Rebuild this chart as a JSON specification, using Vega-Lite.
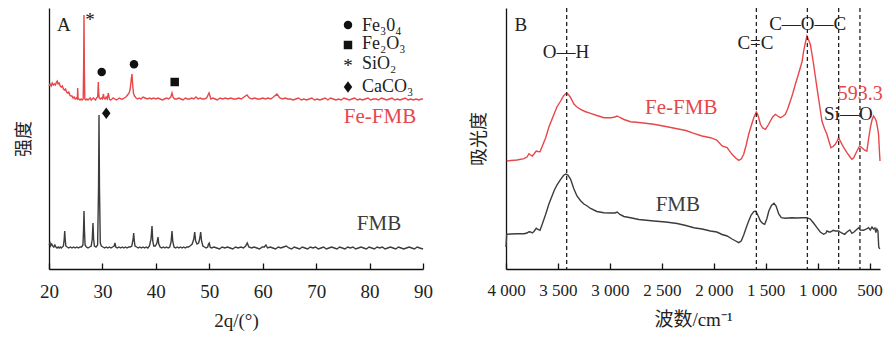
{
  "$schema": "https://vega.github.io/schema/vega-lite/v6.json",
  "padding": {"left": 15, "top": 7, "right": 3, "bottom": 3},
  "bounds": "flush",
  "spacing": 83,
  "config": {
    "view": {"stroke": null},
    "font": "Liberation Serif",
    "axis": {"grid": false, "domainColor": "#111", "domainWidth": 1.3, "tickColor": "#111", "tickWidth": 1.3, "labelColor": "#222", "titleColor": "#222", "labelFont": "Liberation Serif", "titleFont": "Liberation Serif, Noto Sans CJK SC", "titleFontWeight": "normal"},
    "text": {"font": "Liberation Serif, DejaVu Serif, Noto Sans CJK SC"}
  },
  "datasets": {
    "xrd": [
      {"theta":20.0,"intensity":183,"sample":"Fe-FMB"},{"theta":20.2,"intensity":185,"sample":"Fe-FMB"},{"theta":20.4,"intensity":183,"sample":"Fe-FMB"},{"theta":20.6,"intensity":186,"sample":"Fe-FMB"},{"theta":20.8,"intensity":184,"sample":"Fe-FMB"},{"theta":21.0,"intensity":185,"sample":"Fe-FMB"},{"theta":21.2,"intensity":184,"sample":"Fe-FMB"},{"theta":21.4,"intensity":187,"sample":"Fe-FMB"},{"theta":21.55,"intensity":188,"sample":"Fe-FMB"},{"theta":21.7,"intensity":185,"sample":"Fe-FMB"},{"theta":21.9,"intensity":186,"sample":"Fe-FMB"},{"theta":22.1,"intensity":183,"sample":"Fe-FMB"},{"theta":22.3,"intensity":182,"sample":"Fe-FMB"},{"theta":22.5,"intensity":183,"sample":"Fe-FMB"},{"theta":22.7,"intensity":180,"sample":"Fe-FMB"},{"theta":22.9,"intensity":179,"sample":"Fe-FMB"},{"theta":23.1,"intensity":180,"sample":"Fe-FMB"},{"theta":23.3,"intensity":177,"sample":"Fe-FMB"},{"theta":23.5,"intensity":176,"sample":"Fe-FMB"},{"theta":23.7,"intensity":177,"sample":"Fe-FMB"},{"theta":23.9,"intensity":174,"sample":"Fe-FMB"},{"theta":24.1,"intensity":173,"sample":"Fe-FMB"},{"theta":24.3,"intensity":173,"sample":"Fe-FMB"},{"theta":24.5,"intensity":171,"sample":"Fe-FMB"},{"theta":24.7,"intensity":172,"sample":"Fe-FMB"},{"theta":24.9,"intensity":170,"sample":"Fe-FMB"},{"theta":25.1,"intensity":171,"sample":"Fe-FMB"},{"theta":25.3,"intensity":170,"sample":"Fe-FMB"},{"theta":25.37,"intensity":181,"sample":"Fe-FMB"},{"theta":25.45,"intensity":170,"sample":"Fe-FMB"},{"theta":25.6,"intensity":170,"sample":"Fe-FMB"},{"theta":25.8,"intensity":169,"sample":"Fe-FMB"},{"theta":26.0,"intensity":170,"sample":"Fe-FMB"},{"theta":26.2,"intensity":169,"sample":"Fe-FMB"},{"theta":26.4,"intensity":170,"sample":"Fe-FMB"},{"theta":26.48,"intensity":200,"sample":"Fe-FMB"},{"theta":26.55,"intensity":254,"sample":"Fe-FMB"},{"theta":26.62,"intensity":200,"sample":"Fe-FMB"},{"theta":26.7,"intensity":170,"sample":"Fe-FMB"},{"theta":26.9,"intensity":169,"sample":"Fe-FMB"},{"theta":27.1,"intensity":170,"sample":"Fe-FMB"},{"theta":27.3,"intensity":169,"sample":"Fe-FMB"},{"theta":27.5,"intensity":170,"sample":"Fe-FMB"},{"theta":27.7,"intensity":171,"sample":"Fe-FMB"},{"theta":27.9,"intensity":169,"sample":"Fe-FMB"},{"theta":28.1,"intensity":170,"sample":"Fe-FMB"},{"theta":28.3,"intensity":171,"sample":"Fe-FMB"},{"theta":28.5,"intensity":170,"sample":"Fe-FMB"},{"theta":28.7,"intensity":169,"sample":"Fe-FMB"},{"theta":28.9,"intensity":171,"sample":"Fe-FMB"},{"theta":29.1,"intensity":172,"sample":"Fe-FMB"},{"theta":29.17,"intensity":178,"sample":"Fe-FMB"},{"theta":29.23,"intensity":187,"sample":"Fe-FMB"},{"theta":29.3,"intensity":176,"sample":"Fe-FMB"},{"theta":29.4,"intensity":171,"sample":"Fe-FMB"},{"theta":29.6,"intensity":170,"sample":"Fe-FMB"},{"theta":29.8,"intensity":171,"sample":"Fe-FMB"},{"theta":30.0,"intensity":170,"sample":"Fe-FMB"},{"theta":30.2,"intensity":175,"sample":"Fe-FMB"},{"theta":30.3,"intensity":171,"sample":"Fe-FMB"},{"theta":30.5,"intensity":170,"sample":"Fe-FMB"},{"theta":30.7,"intensity":172,"sample":"Fe-FMB"},{"theta":30.9,"intensity":170,"sample":"Fe-FMB"},{"theta":31.1,"intensity":176,"sample":"Fe-FMB"},{"theta":31.3,"intensity":170,"sample":"Fe-FMB"},{"theta":31.5,"intensity":169,"sample":"Fe-FMB"},{"theta":31.8,"intensity":170,"sample":"Fe-FMB"},{"theta":32.0,"intensity":171,"sample":"Fe-FMB"},{"theta":32.3,"intensity":170,"sample":"Fe-FMB"},{"theta":32.6,"intensity":169,"sample":"Fe-FMB"},{"theta":32.9,"intensity":170,"sample":"Fe-FMB"},{"theta":33.2,"intensity":171,"sample":"Fe-FMB"},{"theta":33.5,"intensity":170,"sample":"Fe-FMB"},{"theta":33.8,"intensity":170,"sample":"Fe-FMB"},{"theta":34.1,"intensity":171,"sample":"Fe-FMB"},{"theta":34.4,"intensity":172,"sample":"Fe-FMB"},{"theta":34.7,"intensity":174,"sample":"Fe-FMB"},{"theta":35.0,"intensity":176,"sample":"Fe-FMB"},{"theta":35.2,"intensity":180,"sample":"Fe-FMB"},{"theta":35.4,"intensity":190,"sample":"Fe-FMB"},{"theta":35.53,"intensity":195,"sample":"Fe-FMB"},{"theta":35.65,"intensity":185,"sample":"Fe-FMB"},{"theta":35.8,"intensity":176,"sample":"Fe-FMB"},{"theta":36.0,"intensity":173,"sample":"Fe-FMB"},{"theta":36.3,"intensity":171,"sample":"Fe-FMB"},{"theta":36.6,"intensity":170,"sample":"Fe-FMB"},{"theta":36.9,"intensity":171,"sample":"Fe-FMB"},{"theta":37.2,"intensity":170,"sample":"Fe-FMB"},{"theta":37.6,"intensity":172,"sample":"Fe-FMB"},{"theta":38.0,"intensity":171,"sample":"Fe-FMB"},{"theta":38.4,"intensity":170,"sample":"Fe-FMB"},{"theta":38.8,"intensity":171,"sample":"Fe-FMB"},{"theta":39.2,"intensity":170,"sample":"Fe-FMB"},{"theta":39.6,"intensity":171,"sample":"Fe-FMB"},{"theta":40.0,"intensity":170,"sample":"Fe-FMB"},{"theta":40.4,"intensity":171,"sample":"Fe-FMB"},{"theta":40.8,"intensity":170,"sample":"Fe-FMB"},{"theta":41.2,"intensity":169,"sample":"Fe-FMB"},{"theta":41.6,"intensity":170,"sample":"Fe-FMB"},{"theta":42.0,"intensity":171,"sample":"Fe-FMB"},{"theta":42.4,"intensity":170,"sample":"Fe-FMB"},{"theta":42.8,"intensity":172,"sample":"Fe-FMB"},{"theta":43.02,"intensity":176,"sample":"Fe-FMB"},{"theta":43.2,"intensity":172,"sample":"Fe-FMB"},{"theta":43.5,"intensity":170,"sample":"Fe-FMB"},{"theta":43.9,"intensity":170,"sample":"Fe-FMB"},{"theta":44.3,"intensity":171,"sample":"Fe-FMB"},{"theta":44.7,"intensity":170,"sample":"Fe-FMB"},{"theta":45.1,"intensity":169,"sample":"Fe-FMB"},{"theta":45.5,"intensity":171,"sample":"Fe-FMB"},{"theta":45.9,"intensity":170,"sample":"Fe-FMB"},{"theta":46.3,"intensity":170,"sample":"Fe-FMB"},{"theta":46.7,"intensity":171,"sample":"Fe-FMB"},{"theta":47.1,"intensity":170,"sample":"Fe-FMB"},{"theta":47.5,"intensity":172,"sample":"Fe-FMB"},{"theta":47.9,"intensity":170,"sample":"Fe-FMB"},{"theta":48.3,"intensity":171,"sample":"Fe-FMB"},{"theta":48.7,"intensity":170,"sample":"Fe-FMB"},{"theta":49.1,"intensity":170,"sample":"Fe-FMB"},{"theta":49.5,"intensity":171,"sample":"Fe-FMB"},{"theta":49.95,"intensity":176,"sample":"Fe-FMB"},{"theta":50.3,"intensity":170,"sample":"Fe-FMB"},{"theta":50.7,"intensity":171,"sample":"Fe-FMB"},{"theta":51.1,"intensity":170,"sample":"Fe-FMB"},{"theta":51.5,"intensity":169,"sample":"Fe-FMB"},{"theta":52.0,"intensity":171,"sample":"Fe-FMB"},{"theta":52.5,"intensity":170,"sample":"Fe-FMB"},{"theta":53.0,"intensity":171,"sample":"Fe-FMB"},{"theta":53.5,"intensity":170,"sample":"Fe-FMB"},{"theta":54.0,"intensity":171,"sample":"Fe-FMB"},{"theta":54.5,"intensity":170,"sample":"Fe-FMB"},{"theta":55.0,"intensity":170,"sample":"Fe-FMB"},{"theta":55.5,"intensity":171,"sample":"Fe-FMB"},{"theta":56.0,"intensity":170,"sample":"Fe-FMB"},{"theta":56.5,"intensity":172,"sample":"Fe-FMB"},{"theta":57.06,"intensity":174,"sample":"Fe-FMB"},{"theta":57.5,"intensity":171,"sample":"Fe-FMB"},{"theta":58.0,"intensity":170,"sample":"Fe-FMB"},{"theta":58.5,"intensity":171,"sample":"Fe-FMB"},{"theta":59.0,"intensity":170,"sample":"Fe-FMB"},{"theta":59.5,"intensity":170,"sample":"Fe-FMB"},{"theta":60.0,"intensity":171,"sample":"Fe-FMB"},{"theta":60.5,"intensity":170,"sample":"Fe-FMB"},{"theta":61.0,"intensity":171,"sample":"Fe-FMB"},{"theta":61.5,"intensity":170,"sample":"Fe-FMB"},{"theta":62.0,"intensity":172,"sample":"Fe-FMB"},{"theta":62.67,"intensity":175,"sample":"Fe-FMB"},{"theta":63.2,"intensity":171,"sample":"Fe-FMB"},{"theta":63.7,"intensity":170,"sample":"Fe-FMB"},{"theta":64.2,"intensity":171,"sample":"Fe-FMB"},{"theta":64.7,"intensity":170,"sample":"Fe-FMB"},{"theta":65.2,"intensity":170,"sample":"Fe-FMB"},{"theta":65.7,"intensity":169,"sample":"Fe-FMB"},{"theta":66.2,"intensity":170,"sample":"Fe-FMB"},{"theta":66.7,"intensity":171,"sample":"Fe-FMB"},{"theta":67.2,"intensity":169,"sample":"Fe-FMB"},{"theta":67.7,"intensity":170,"sample":"Fe-FMB"},{"theta":68.2,"intensity":169,"sample":"Fe-FMB"},{"theta":68.7,"intensity":170,"sample":"Fe-FMB"},{"theta":69.2,"intensity":171,"sample":"Fe-FMB"},{"theta":69.7,"intensity":169,"sample":"Fe-FMB"},{"theta":70.2,"intensity":170,"sample":"Fe-FMB"},{"theta":70.7,"intensity":169,"sample":"Fe-FMB"},{"theta":71.2,"intensity":170,"sample":"Fe-FMB"},{"theta":71.7,"intensity":171,"sample":"Fe-FMB"},{"theta":72.2,"intensity":169,"sample":"Fe-FMB"},{"theta":72.7,"intensity":171,"sample":"Fe-FMB"},{"theta":73.2,"intensity":170,"sample":"Fe-FMB"},{"theta":73.7,"intensity":169,"sample":"Fe-FMB"},{"theta":74.2,"intensity":170,"sample":"Fe-FMB"},{"theta":74.7,"intensity":169,"sample":"Fe-FMB"},{"theta":75.2,"intensity":171,"sample":"Fe-FMB"},{"theta":75.7,"intensity":170,"sample":"Fe-FMB"},{"theta":76.2,"intensity":169,"sample":"Fe-FMB"},{"theta":76.7,"intensity":170,"sample":"Fe-FMB"},{"theta":77.2,"intensity":171,"sample":"Fe-FMB"},{"theta":77.7,"intensity":169,"sample":"Fe-FMB"},{"theta":78.2,"intensity":170,"sample":"Fe-FMB"},{"theta":78.7,"intensity":169,"sample":"Fe-FMB"},{"theta":79.2,"intensity":170,"sample":"Fe-FMB"},{"theta":79.7,"intensity":171,"sample":"Fe-FMB"},{"theta":80.2,"intensity":169,"sample":"Fe-FMB"},{"theta":80.7,"intensity":170,"sample":"Fe-FMB"},{"theta":81.2,"intensity":170,"sample":"Fe-FMB"},{"theta":81.7,"intensity":169,"sample":"Fe-FMB"},{"theta":82.2,"intensity":171,"sample":"Fe-FMB"},{"theta":82.7,"intensity":170,"sample":"Fe-FMB"},{"theta":83.2,"intensity":169,"sample":"Fe-FMB"},{"theta":83.7,"intensity":170,"sample":"Fe-FMB"},{"theta":84.2,"intensity":171,"sample":"Fe-FMB"},{"theta":84.7,"intensity":169,"sample":"Fe-FMB"},{"theta":85.2,"intensity":170,"sample":"Fe-FMB"},{"theta":85.7,"intensity":169,"sample":"Fe-FMB"},{"theta":86.2,"intensity":170,"sample":"Fe-FMB"},{"theta":86.7,"intensity":171,"sample":"Fe-FMB"},{"theta":87.2,"intensity":169,"sample":"Fe-FMB"},{"theta":87.7,"intensity":170,"sample":"Fe-FMB"},{"theta":88.2,"intensity":169,"sample":"Fe-FMB"},{"theta":88.7,"intensity":170,"sample":"Fe-FMB"},{"theta":89.2,"intensity":169,"sample":"Fe-FMB"},{"theta":89.7,"intensity":170,"sample":"Fe-FMB"},{"theta":90.0,"intensity":170,"sample":"Fe-FMB"},
      {"theta":20.0,"intensity":24,"sample":"FMB"},{"theta":20.2,"intensity":26,"sample":"FMB"},{"theta":20.3,"intensity":23,"sample":"FMB"},{"theta":20.5,"intensity":25,"sample":"FMB"},{"theta":20.7,"intensity":23,"sample":"FMB"},{"theta":20.9,"intensity":22,"sample":"FMB"},{"theta":21.1,"intensity":24,"sample":"FMB"},{"theta":21.3,"intensity":22,"sample":"FMB"},{"theta":21.5,"intensity":21,"sample":"FMB"},{"theta":21.7,"intensity":22,"sample":"FMB"},{"theta":21.9,"intensity":21,"sample":"FMB"},{"theta":22.1,"intensity":22,"sample":"FMB"},{"theta":22.3,"intensity":21,"sample":"FMB"},{"theta":22.5,"intensity":22,"sample":"FMB"},{"theta":22.7,"intensity":23,"sample":"FMB"},{"theta":22.85,"intensity":30,"sample":"FMB"},{"theta":22.94,"intensity":38,"sample":"FMB"},{"theta":23.03,"intensity":30,"sample":"FMB"},{"theta":23.15,"intensity":23,"sample":"FMB"},{"theta":23.4,"intensity":22,"sample":"FMB"},{"theta":23.7,"intensity":21,"sample":"FMB"},{"theta":24.0,"intensity":22,"sample":"FMB"},{"theta":24.3,"intensity":21,"sample":"FMB"},{"theta":24.6,"intensity":22,"sample":"FMB"},{"theta":24.9,"intensity":21,"sample":"FMB"},{"theta":25.2,"intensity":22,"sample":"FMB"},{"theta":25.5,"intensity":21,"sample":"FMB"},{"theta":25.8,"intensity":22,"sample":"FMB"},{"theta":26.1,"intensity":22,"sample":"FMB"},{"theta":26.35,"intensity":24,"sample":"FMB"},{"theta":26.47,"intensity":40,"sample":"FMB"},{"theta":26.55,"intensity":58,"sample":"FMB"},{"theta":26.63,"intensity":40,"sample":"FMB"},{"theta":26.75,"intensity":24,"sample":"FMB"},{"theta":27.0,"intensity":22,"sample":"FMB"},{"theta":27.3,"intensity":21,"sample":"FMB"},{"theta":27.6,"intensity":22,"sample":"FMB"},{"theta":27.9,"intensity":23,"sample":"FMB"},{"theta":28.1,"intensity":30,"sample":"FMB"},{"theta":28.23,"intensity":46,"sample":"FMB"},{"theta":28.35,"intensity":30,"sample":"FMB"},{"theta":28.5,"intensity":23,"sample":"FMB"},{"theta":28.8,"intensity":22,"sample":"FMB"},{"theta":29.1,"intensity":24,"sample":"FMB"},{"theta":29.27,"intensity":80,"sample":"FMB"},{"theta":29.36,"intensity":154,"sample":"FMB"},{"theta":29.45,"intensity":80,"sample":"FMB"},{"theta":29.6,"intensity":26,"sample":"FMB"},{"theta":29.8,"intensity":23,"sample":"FMB"},{"theta":30.1,"intensity":22,"sample":"FMB"},{"theta":30.4,"intensity":21,"sample":"FMB"},{"theta":30.7,"intensity":22,"sample":"FMB"},{"theta":31.0,"intensity":21,"sample":"FMB"},{"theta":31.3,"intensity":22,"sample":"FMB"},{"theta":31.6,"intensity":21,"sample":"FMB"},{"theta":31.9,"intensity":22,"sample":"FMB"},{"theta":32.2,"intensity":23,"sample":"FMB"},{"theta":32.35,"intensity":26,"sample":"FMB"},{"theta":32.5,"intensity":22,"sample":"FMB"},{"theta":32.8,"intensity":21,"sample":"FMB"},{"theta":33.1,"intensity":22,"sample":"FMB"},{"theta":33.4,"intensity":21,"sample":"FMB"},{"theta":33.7,"intensity":22,"sample":"FMB"},{"theta":34.0,"intensity":21,"sample":"FMB"},{"theta":34.3,"intensity":22,"sample":"FMB"},{"theta":34.6,"intensity":21,"sample":"FMB"},{"theta":34.9,"intensity":22,"sample":"FMB"},{"theta":35.2,"intensity":22,"sample":"FMB"},{"theta":35.5,"intensity":23,"sample":"FMB"},{"theta":35.75,"intensity":30,"sample":"FMB"},{"theta":35.85,"intensity":36,"sample":"FMB"},{"theta":35.97,"intensity":28,"sample":"FMB"},{"theta":36.1,"intensity":23,"sample":"FMB"},{"theta":36.4,"intensity":22,"sample":"FMB"},{"theta":36.7,"intensity":21,"sample":"FMB"},{"theta":37.0,"intensity":22,"sample":"FMB"},{"theta":37.3,"intensity":21,"sample":"FMB"},{"theta":37.6,"intensity":22,"sample":"FMB"},{"theta":37.9,"intensity":21,"sample":"FMB"},{"theta":38.2,"intensity":22,"sample":"FMB"},{"theta":38.5,"intensity":21,"sample":"FMB"},{"theta":38.8,"intensity":23,"sample":"FMB"},{"theta":39.1,"intensity":30,"sample":"FMB"},{"theta":39.28,"intensity":43,"sample":"FMB"},{"theta":39.42,"intensity":28,"sample":"FMB"},{"theta":39.6,"intensity":23,"sample":"FMB"},{"theta":39.9,"intensity":23,"sample":"FMB"},{"theta":40.2,"intensity":26,"sample":"FMB"},{"theta":40.4,"intensity":32,"sample":"FMB"},{"theta":40.55,"intensity":25,"sample":"FMB"},{"theta":40.8,"intensity":22,"sample":"FMB"},{"theta":41.1,"intensity":21,"sample":"FMB"},{"theta":41.4,"intensity":22,"sample":"FMB"},{"theta":41.7,"intensity":21,"sample":"FMB"},{"theta":42.0,"intensity":22,"sample":"FMB"},{"theta":42.3,"intensity":21,"sample":"FMB"},{"theta":42.6,"intensity":22,"sample":"FMB"},{"theta":42.85,"intensity":27,"sample":"FMB"},{"theta":43.02,"intensity":38,"sample":"FMB"},{"theta":43.18,"intensity":27,"sample":"FMB"},{"theta":43.4,"intensity":22,"sample":"FMB"},{"theta":43.7,"intensity":21,"sample":"FMB"},{"theta":44.0,"intensity":22,"sample":"FMB"},{"theta":44.3,"intensity":21,"sample":"FMB"},{"theta":44.6,"intensity":22,"sample":"FMB"},{"theta":44.9,"intensity":21,"sample":"FMB"},{"theta":45.2,"intensity":22,"sample":"FMB"},{"theta":45.5,"intensity":21,"sample":"FMB"},{"theta":45.8,"intensity":22,"sample":"FMB"},{"theta":46.1,"intensity":22,"sample":"FMB"},{"theta":46.4,"intensity":23,"sample":"FMB"},{"theta":46.8,"intensity":25,"sample":"FMB"},{"theta":47.1,"intensity":30,"sample":"FMB"},{"theta":47.27,"intensity":37,"sample":"FMB"},{"theta":47.45,"intensity":28,"sample":"FMB"},{"theta":47.7,"intensity":25,"sample":"FMB"},{"theta":48.0,"intensity":26,"sample":"FMB"},{"theta":48.2,"intensity":30,"sample":"FMB"},{"theta":48.39,"intensity":37,"sample":"FMB"},{"theta":48.55,"intensity":28,"sample":"FMB"},{"theta":48.8,"intensity":23,"sample":"FMB"},{"theta":49.1,"intensity":22,"sample":"FMB"},{"theta":49.4,"intensity":21,"sample":"FMB"},{"theta":49.7,"intensity":22,"sample":"FMB"},{"theta":49.85,"intensity":25,"sample":"FMB"},{"theta":50.0,"intensity":26,"sample":"FMB"},{"theta":50.15,"intensity":22,"sample":"FMB"},{"theta":50.4,"intensity":21,"sample":"FMB"},{"theta":50.9,"intensity":22,"sample":"FMB"},{"theta":51.4,"intensity":21,"sample":"FMB"},{"theta":51.9,"intensity":20,"sample":"FMB"},{"theta":52.4,"intensity":22,"sample":"FMB"},{"theta":52.9,"intensity":21,"sample":"FMB"},{"theta":53.4,"intensity":22,"sample":"FMB"},{"theta":53.9,"intensity":21,"sample":"FMB"},{"theta":54.4,"intensity":20,"sample":"FMB"},{"theta":54.9,"intensity":22,"sample":"FMB"},{"theta":55.4,"intensity":21,"sample":"FMB"},{"theta":55.9,"intensity":22,"sample":"FMB"},{"theta":56.4,"intensity":21,"sample":"FMB"},{"theta":56.8,"intensity":23,"sample":"FMB"},{"theta":57.1,"intensity":26,"sample":"FMB"},{"theta":57.4,"intensity":22,"sample":"FMB"},{"theta":57.9,"intensity":21,"sample":"FMB"},{"theta":58.4,"intensity":22,"sample":"FMB"},{"theta":58.9,"intensity":21,"sample":"FMB"},{"theta":59.4,"intensity":20,"sample":"FMB"},{"theta":59.9,"intensity":22,"sample":"FMB"},{"theta":60.3,"intensity":22,"sample":"FMB"},{"theta":60.6,"intensity":24,"sample":"FMB"},{"theta":60.9,"intensity":21,"sample":"FMB"},{"theta":61.4,"intensity":22,"sample":"FMB"},{"theta":61.9,"intensity":21,"sample":"FMB"},{"theta":62.4,"intensity":20,"sample":"FMB"},{"theta":62.9,"intensity":22,"sample":"FMB"},{"theta":63.4,"intensity":21,"sample":"FMB"},{"theta":63.9,"intensity":22,"sample":"FMB"},{"theta":64.4,"intensity":23,"sample":"FMB"},{"theta":64.9,"intensity":21,"sample":"FMB"},{"theta":65.4,"intensity":20,"sample":"FMB"},{"theta":65.9,"intensity":22,"sample":"FMB"},{"theta":66.4,"intensity":21,"sample":"FMB"},{"theta":66.9,"intensity":20,"sample":"FMB"},{"theta":67.4,"intensity":22,"sample":"FMB"},{"theta":67.9,"intensity":21,"sample":"FMB"},{"theta":68.4,"intensity":20,"sample":"FMB"},{"theta":68.9,"intensity":22,"sample":"FMB"},{"theta":69.4,"intensity":21,"sample":"FMB"},{"theta":69.9,"intensity":22,"sample":"FMB"},{"theta":70.4,"intensity":20,"sample":"FMB"},{"theta":70.9,"intensity":21,"sample":"FMB"},{"theta":71.4,"intensity":22,"sample":"FMB"},{"theta":71.9,"intensity":20,"sample":"FMB"},{"theta":72.4,"intensity":21,"sample":"FMB"},{"theta":72.9,"intensity":22,"sample":"FMB"},{"theta":73.4,"intensity":21,"sample":"FMB"},{"theta":73.9,"intensity":20,"sample":"FMB"},{"theta":74.4,"intensity":22,"sample":"FMB"},{"theta":74.9,"intensity":21,"sample":"FMB"},{"theta":75.4,"intensity":20,"sample":"FMB"},{"theta":75.9,"intensity":22,"sample":"FMB"},{"theta":76.4,"intensity":21,"sample":"FMB"},{"theta":76.9,"intensity":22,"sample":"FMB"},{"theta":77.4,"intensity":20,"sample":"FMB"},{"theta":77.9,"intensity":21,"sample":"FMB"},{"theta":78.4,"intensity":22,"sample":"FMB"},{"theta":78.9,"intensity":21,"sample":"FMB"},{"theta":79.4,"intensity":20,"sample":"FMB"},{"theta":79.9,"intensity":22,"sample":"FMB"},{"theta":80.4,"intensity":21,"sample":"FMB"},{"theta":80.9,"intensity":20,"sample":"FMB"},{"theta":81.4,"intensity":22,"sample":"FMB"},{"theta":81.9,"intensity":21,"sample":"FMB"},{"theta":82.4,"intensity":22,"sample":"FMB"},{"theta":82.9,"intensity":20,"sample":"FMB"},{"theta":83.4,"intensity":21,"sample":"FMB"},{"theta":83.9,"intensity":22,"sample":"FMB"},{"theta":84.4,"intensity":21,"sample":"FMB"},{"theta":84.9,"intensity":20,"sample":"FMB"},{"theta":85.4,"intensity":22,"sample":"FMB"},{"theta":85.9,"intensity":21,"sample":"FMB"},{"theta":86.4,"intensity":20,"sample":"FMB"},{"theta":86.9,"intensity":21,"sample":"FMB"},{"theta":87.4,"intensity":22,"sample":"FMB"},{"theta":87.9,"intensity":21,"sample":"FMB"},{"theta":88.4,"intensity":20,"sample":"FMB"},{"theta":88.9,"intensity":22,"sample":"FMB"},{"theta":89.4,"intensity":21,"sample":"FMB"},{"theta":90.0,"intensity":20,"sample":"FMB"}
    ],
    "ftir": [
      {"wavenumber":3993,"absorbance":108,"sample":"Fe-FMB"},{"wavenumber":3952,"absorbance":108.5,"sample":"Fe-FMB"},{"wavenumber":3894,"absorbance":109,"sample":"Fe-FMB"},{"wavenumber":3827,"absorbance":110.3,"sample":"Fe-FMB"},{"wavenumber":3798,"absorbance":112,"sample":"Fe-FMB"},{"wavenumber":3779,"absorbance":115.3,"sample":"Fe-FMB"},{"wavenumber":3764,"absorbance":114,"sample":"Fe-FMB"},{"wavenumber":3747,"absorbance":113,"sample":"Fe-FMB"},{"wavenumber":3731,"absorbance":115,"sample":"Fe-FMB"},{"wavenumber":3709,"absorbance":118,"sample":"Fe-FMB"},{"wavenumber":3692,"absorbance":117.5,"sample":"Fe-FMB"},{"wavenumber":3673,"absorbance":117.3,"sample":"Fe-FMB"},{"wavenumber":3654,"absorbance":122,"sample":"Fe-FMB"},{"wavenumber":3618,"absorbance":131.3,"sample":"Fe-FMB"},{"wavenumber":3587,"absorbance":142,"sample":"Fe-FMB"},{"wavenumber":3538,"absorbance":154.7,"sample":"Fe-FMB"},{"wavenumber":3510,"absorbance":162,"sample":"Fe-FMB"},{"wavenumber":3474,"absorbance":168,"sample":"Fe-FMB"},{"wavenumber":3447,"absorbance":173,"sample":"Fe-FMB"},{"wavenumber":3420,"absorbance":175.7,"sample":"Fe-FMB"},{"wavenumber":3399,"absorbance":174.5,"sample":"Fe-FMB"},{"wavenumber":3378,"absorbance":171.3,"sample":"Fe-FMB"},{"wavenumber":3346,"absorbance":165,"sample":"Fe-FMB"},{"wavenumber":3317,"absorbance":162,"sample":"Fe-FMB"},{"wavenumber":3282,"absorbance":159.7,"sample":"Fe-FMB"},{"wavenumber":3240,"absorbance":157.5,"sample":"Fe-FMB"},{"wavenumber":3186,"absorbance":155.7,"sample":"Fe-FMB"},{"wavenumber":3125,"absorbance":153.5,"sample":"Fe-FMB"},{"wavenumber":3058,"absorbance":151.3,"sample":"Fe-FMB"},{"wavenumber":2991,"absorbance":151.3,"sample":"Fe-FMB"},{"wavenumber":2952,"absorbance":152,"sample":"Fe-FMB"},{"wavenumber":2930,"absorbance":153,"sample":"Fe-FMB"},{"wavenumber":2904,"absorbance":151.5,"sample":"Fe-FMB"},{"wavenumber":2865,"absorbance":149.5,"sample":"Fe-FMB"},{"wavenumber":2801,"absorbance":147.3,"sample":"Fe-FMB"},{"wavenumber":2721,"absorbance":146.5,"sample":"Fe-FMB"},{"wavenumber":2577,"absorbance":144.7,"sample":"Fe-FMB"},{"wavenumber":2462,"absorbance":142.5,"sample":"Fe-FMB"},{"wavenumber":2353,"absorbance":140.3,"sample":"Fe-FMB"},{"wavenumber":2269,"absorbance":138.5,"sample":"Fe-FMB"},{"wavenumber":2192,"absorbance":135.7,"sample":"Fe-FMB"},{"wavenumber":2113,"absorbance":133,"sample":"Fe-FMB"},{"wavenumber":2032,"absorbance":131.3,"sample":"Fe-FMB"},{"wavenumber":1971,"absorbance":129,"sample":"Fe-FMB"},{"wavenumber":1920,"absorbance":123,"sample":"Fe-FMB"},{"wavenumber":1872,"absorbance":121.3,"sample":"Fe-FMB"},{"wavenumber":1824,"absorbance":114.7,"sample":"Fe-FMB"},{"wavenumber":1789,"absorbance":111,"sample":"Fe-FMB"},{"wavenumber":1760,"absorbance":108.7,"sample":"Fe-FMB"},{"wavenumber":1736,"absorbance":110,"sample":"Fe-FMB"},{"wavenumber":1712,"absorbance":114.7,"sample":"Fe-FMB"},{"wavenumber":1688,"absorbance":124,"sample":"Fe-FMB"},{"wavenumber":1664,"absorbance":134.7,"sample":"Fe-FMB"},{"wavenumber":1640,"absorbance":143,"sample":"Fe-FMB"},{"wavenumber":1615,"absorbance":151.3,"sample":"Fe-FMB"},{"wavenumber":1590,"absorbance":157,"sample":"Fe-FMB"},{"wavenumber":1572,"absorbance":153,"sample":"Fe-FMB"},{"wavenumber":1551,"absorbance":144.7,"sample":"Fe-FMB"},{"wavenumber":1529,"absorbance":141,"sample":"Fe-FMB"},{"wavenumber":1503,"absorbance":139.7,"sample":"Fe-FMB"},{"wavenumber":1481,"absorbance":143,"sample":"Fe-FMB"},{"wavenumber":1455,"absorbance":148,"sample":"Fe-FMB"},{"wavenumber":1433,"absorbance":152,"sample":"Fe-FMB"},{"wavenumber":1407,"absorbance":154.7,"sample":"Fe-FMB"},{"wavenumber":1385,"absorbance":153,"sample":"Fe-FMB"},{"wavenumber":1359,"absorbance":151.3,"sample":"Fe-FMB"},{"wavenumber":1337,"absorbance":152.5,"sample":"Fe-FMB"},{"wavenumber":1311,"absorbance":154.7,"sample":"Fe-FMB"},{"wavenumber":1289,"absorbance":160,"sample":"Fe-FMB"},{"wavenumber":1263,"absorbance":168,"sample":"Fe-FMB"},{"wavenumber":1241,"absorbance":175,"sample":"Fe-FMB"},{"wavenumber":1215,"absorbance":184.7,"sample":"Fe-FMB"},{"wavenumber":1193,"absorbance":192,"sample":"Fe-FMB"},{"wavenumber":1167,"absorbance":201.3,"sample":"Fe-FMB"},{"wavenumber":1149,"absorbance":208,"sample":"Fe-FMB"},{"wavenumber":1135,"absorbance":218,"sample":"Fe-FMB"},{"wavenumber":1119,"absorbance":226,"sample":"Fe-FMB"},{"wavenumber":1103,"absorbance":233,"sample":"Fe-FMB"},{"wavenumber":1087,"absorbance":229,"sample":"Fe-FMB"},{"wavenumber":1071,"absorbance":224.7,"sample":"Fe-FMB"},{"wavenumber":1055,"absorbance":215,"sample":"Fe-FMB"},{"wavenumber":1039,"absorbance":204.7,"sample":"Fe-FMB"},{"wavenumber":1023,"absorbance":193,"sample":"Fe-FMB"},{"wavenumber":1007,"absorbance":181.3,"sample":"Fe-FMB"},{"wavenumber":983,"absorbance":165,"sample":"Fe-FMB"},{"wavenumber":959,"absorbance":148,"sample":"Fe-FMB"},{"wavenumber":933,"absorbance":140,"sample":"Fe-FMB"},{"wavenumber":911,"absorbance":134.7,"sample":"Fe-FMB"},{"wavenumber":892,"absorbance":128,"sample":"Fe-FMB"},{"wavenumber":872,"absorbance":121.3,"sample":"Fe-FMB"},{"wavenumber":851,"absorbance":122.5,"sample":"Fe-FMB"},{"wavenumber":830,"absorbance":124.7,"sample":"Fe-FMB"},{"wavenumber":813,"absorbance":128,"sample":"Fe-FMB"},{"wavenumber":798,"absorbance":131.3,"sample":"Fe-FMB"},{"wavenumber":782,"absorbance":128,"sample":"Fe-FMB"},{"wavenumber":766,"absorbance":124.7,"sample":"Fe-FMB"},{"wavenumber":741,"absorbance":120,"sample":"Fe-FMB"},{"wavenumber":718,"absorbance":116.3,"sample":"Fe-FMB"},{"wavenumber":692,"absorbance":112.5,"sample":"Fe-FMB"},{"wavenumber":670,"absorbance":109.7,"sample":"Fe-FMB"},{"wavenumber":654,"absorbance":111,"sample":"Fe-FMB"},{"wavenumber":637,"absorbance":114.7,"sample":"Fe-FMB"},{"wavenumber":617,"absorbance":119,"sample":"Fe-FMB"},{"wavenumber":596,"absorbance":123,"sample":"Fe-FMB"},{"wavenumber":577,"absorbance":121.5,"sample":"Fe-FMB"},{"wavenumber":558,"absorbance":119.7,"sample":"Fe-FMB"},{"wavenumber":541,"absorbance":118.5,"sample":"Fe-FMB"},{"wavenumber":526,"absorbance":118,"sample":"Fe-FMB"},{"wavenumber":510,"absorbance":130,"sample":"Fe-FMB"},{"wavenumber":493,"absorbance":141.3,"sample":"Fe-FMB"},{"wavenumber":477,"absorbance":149,"sample":"Fe-FMB"},{"wavenumber":462,"absorbance":153,"sample":"Fe-FMB"},{"wavenumber":449,"absorbance":151,"sample":"Fe-FMB"},{"wavenumber":436,"absorbance":148,"sample":"Fe-FMB"},{"wavenumber":423,"absorbance":141,"sample":"Fe-FMB"},{"wavenumber":414,"absorbance":134.7,"sample":"Fe-FMB"},{"wavenumber":404,"absorbance":115,"sample":"Fe-FMB"},{"wavenumber":400,"absorbance":108,"sample":"Fe-FMB"},
      {"wavenumber":4000,"absorbance":22,"sample":"FMB"},{"wavenumber":3993,"absorbance":34.7,"sample":"FMB"},{"wavenumber":3952,"absorbance":35,"sample":"FMB"},{"wavenumber":3894,"absorbance":35.3,"sample":"FMB"},{"wavenumber":3827,"absorbance":35.3,"sample":"FMB"},{"wavenumber":3798,"absorbance":36,"sample":"FMB"},{"wavenumber":3779,"absorbance":37.3,"sample":"FMB"},{"wavenumber":3764,"absorbance":37,"sample":"FMB"},{"wavenumber":3747,"absorbance":36,"sample":"FMB"},{"wavenumber":3731,"absorbance":37.5,"sample":"FMB"},{"wavenumber":3709,"absorbance":40.7,"sample":"FMB"},{"wavenumber":3692,"absorbance":39.5,"sample":"FMB"},{"wavenumber":3673,"absorbance":38.7,"sample":"FMB"},{"wavenumber":3654,"absorbance":44,"sample":"FMB"},{"wavenumber":3618,"absorbance":54.7,"sample":"FMB"},{"wavenumber":3587,"absorbance":65,"sample":"FMB"},{"wavenumber":3538,"absorbance":78,"sample":"FMB"},{"wavenumber":3510,"absorbance":84,"sample":"FMB"},{"wavenumber":3474,"absorbance":89.7,"sample":"FMB"},{"wavenumber":3447,"absorbance":93.5,"sample":"FMB"},{"wavenumber":3425,"absorbance":95,"sample":"FMB"},{"wavenumber":3404,"absorbance":94,"sample":"FMB"},{"wavenumber":3378,"absorbance":89.7,"sample":"FMB"},{"wavenumber":3346,"absorbance":80,"sample":"FMB"},{"wavenumber":3317,"absorbance":73,"sample":"FMB"},{"wavenumber":3282,"absorbance":68.3,"sample":"FMB"},{"wavenumber":3250,"absorbance":65,"sample":"FMB"},{"wavenumber":3218,"absorbance":63,"sample":"FMB"},{"wavenumber":3186,"absorbance":60.5,"sample":"FMB"},{"wavenumber":3125,"absorbance":57.5,"sample":"FMB"},{"wavenumber":3058,"absorbance":56.3,"sample":"FMB"},{"wavenumber":2991,"absorbance":56,"sample":"FMB"},{"wavenumber":2952,"absorbance":56,"sample":"FMB"},{"wavenumber":2930,"absorbance":57,"sample":"FMB"},{"wavenumber":2904,"absorbance":54.5,"sample":"FMB"},{"wavenumber":2865,"absorbance":52.5,"sample":"FMB"},{"wavenumber":2801,"absorbance":51.3,"sample":"FMB"},{"wavenumber":2721,"absorbance":49.5,"sample":"FMB"},{"wavenumber":2577,"absorbance":48,"sample":"FMB"},{"wavenumber":2462,"absorbance":47,"sample":"FMB"},{"wavenumber":2353,"absorbance":45.5,"sample":"FMB"},{"wavenumber":2269,"absorbance":43.5,"sample":"FMB"},{"wavenumber":2192,"absorbance":41.3,"sample":"FMB"},{"wavenumber":2113,"absorbance":40,"sample":"FMB"},{"wavenumber":2032,"absorbance":38,"sample":"FMB"},{"wavenumber":1971,"absorbance":37,"sample":"FMB"},{"wavenumber":1920,"absorbance":34.5,"sample":"FMB"},{"wavenumber":1872,"absorbance":33,"sample":"FMB"},{"wavenumber":1824,"absorbance":30,"sample":"FMB"},{"wavenumber":1789,"absorbance":28,"sample":"FMB"},{"wavenumber":1760,"absorbance":26.3,"sample":"FMB"},{"wavenumber":1736,"absorbance":28,"sample":"FMB"},{"wavenumber":1712,"absorbance":34,"sample":"FMB"},{"wavenumber":1688,"absorbance":41.3,"sample":"FMB"},{"wavenumber":1664,"absorbance":48,"sample":"FMB"},{"wavenumber":1640,"absorbance":54,"sample":"FMB"},{"wavenumber":1615,"absorbance":57.5,"sample":"FMB"},{"wavenumber":1596,"absorbance":58,"sample":"FMB"},{"wavenumber":1572,"absorbance":53,"sample":"FMB"},{"wavenumber":1551,"absorbance":48,"sample":"FMB"},{"wavenumber":1529,"absorbance":45.5,"sample":"FMB"},{"wavenumber":1510,"absorbance":44.7,"sample":"FMB"},{"wavenumber":1490,"absorbance":50,"sample":"FMB"},{"wavenumber":1470,"absorbance":58,"sample":"FMB"},{"wavenumber":1445,"absorbance":63.5,"sample":"FMB"},{"wavenumber":1420,"absorbance":65.7,"sample":"FMB"},{"wavenumber":1400,"absorbance":63,"sample":"FMB"},{"wavenumber":1375,"absorbance":55,"sample":"FMB"},{"wavenumber":1350,"absorbance":51.3,"sample":"FMB"},{"wavenumber":1311,"absorbance":50.8,"sample":"FMB"},{"wavenumber":1250,"absorbance":51.3,"sample":"FMB"},{"wavenumber":1200,"absorbance":51,"sample":"FMB"},{"wavenumber":1150,"absorbance":51.3,"sample":"FMB"},{"wavenumber":1103,"absorbance":51.3,"sample":"FMB"},{"wavenumber":1071,"absorbance":50,"sample":"FMB"},{"wavenumber":1040,"absorbance":46,"sample":"FMB"},{"wavenumber":1007,"absorbance":41.3,"sample":"FMB"},{"wavenumber":975,"absorbance":37,"sample":"FMB"},{"wavenumber":943,"absorbance":34.7,"sample":"FMB"},{"wavenumber":920,"absorbance":36,"sample":"FMB"},{"wavenumber":911,"absorbance":38,"sample":"FMB"},{"wavenumber":890,"absorbance":37,"sample":"FMB"},{"wavenumber":878,"absorbance":37,"sample":"FMB"},{"wavenumber":850,"absorbance":38.7,"sample":"FMB"},{"wavenumber":830,"absorbance":38,"sample":"FMB"},{"wavenumber":798,"absorbance":38,"sample":"FMB"},{"wavenumber":770,"absorbance":36,"sample":"FMB"},{"wavenumber":740,"absorbance":34.7,"sample":"FMB"},{"wavenumber":718,"absorbance":37,"sample":"FMB"},{"wavenumber":690,"absorbance":39,"sample":"FMB"},{"wavenumber":670,"absorbance":35.7,"sample":"FMB"},{"wavenumber":650,"absorbance":37,"sample":"FMB"},{"wavenumber":606,"absorbance":41.3,"sample":"FMB"},{"wavenumber":590,"absorbance":39,"sample":"FMB"},{"wavenumber":558,"absorbance":38.7,"sample":"FMB"},{"wavenumber":530,"absorbance":40,"sample":"FMB"},{"wavenumber":510,"absorbance":41.3,"sample":"FMB"},{"wavenumber":493,"absorbance":39,"sample":"FMB"},{"wavenumber":477,"absorbance":42,"sample":"FMB"},{"wavenumber":462,"absorbance":40,"sample":"FMB"},{"wavenumber":449,"absorbance":41,"sample":"FMB"},{"wavenumber":440,"absorbance":36.5,"sample":"FMB"},{"wavenumber":430,"absorbance":40,"sample":"FMB"},{"wavenumber":420,"absorbance":38,"sample":"FMB"},{"wavenumber":412,"absorbance":22,"sample":"FMB"},{"wavenumber":402,"absorbance":20,"sample":"FMB"}
    ]
  },
  "hconcat": [
    {
      "width": 374,
      "height": 261,
      "encoding": {
        "x": {"field": "theta", "type": "quantitative", "scale": {"domain": [20, 90], "nice": false, "zero": false},
          "axis": {"title": "2q/(°)", "values": [20, 30, 40, 50, 60, 70, 80, 90], "tickSize": -6, "labelPadding": 19, "labelFontSize": 19, "titleFontSize": 19, "titlePadding": 10, "labelFlush": false}},
        "y": {"field": "intensity", "type": "quantitative", "scale": {"domain": [0, 261], "nice": false, "zero": false},
          "axis": {"title": "强度", "ticks": false, "labels": false, "titleFont": "Noto Sans CJK SC", "titleFontSize": 18, "titlePadding": 16}}
      },
      "layer": [
        {"data": {"name": "xrd"}, "mark": {"type": "line", "strokeWidth": 1.4, "interpolate": "linear"},
          "encoding": {"color": {"field": "sample", "type": "nominal", "scale": {"domain": ["Fe-FMB", "FMB"], "range": ["#e8474a", "#3c3c3c"]}, "legend": null}}},
        {"data": {"values": [
          {"theta": 29.86, "intensity": 197, "mineral": "Fe₃0₄"},
          {"theta": 35.91, "intensity": 204.7, "mineral": "Fe₃0₄"},
          {"theta": 43.53, "intensity": 187, "mineral": "Fe₂O₃"},
          {"theta": 30.72, "intensity": 155.7, "mineral": "CaCO₃"},
          {"theta": 75.96, "intensity": 244, "mineral": "Fe₃0₄"},
          {"theta": 75.96, "intensity": 224, "mineral": "Fe₂O₃"},
          {"theta": 75.96, "intensity": 182, "mineral": "CaCO₃"}]},
          "mark": {"type": "point", "filled": true, "opacity": 1, "color": "#111", "size": 72},
          "encoding": {"shape": {"field": "mineral", "type": "nominal", "scale": {"domain": ["Fe₃0₄", "Fe₂O₃", "CaCO₃"], "range": ["circle", "square", "M0,-1.35L1,0L0,1.35L-1,0Z"]}, "legend": null}}},
        {"data": {"values": [{"theta": 27.67, "intensity": 243.3}, {"theta": 75.96, "intensity": 197.4}]},
          "mark": {"type": "text", "text": "*", "fontSize": 19, "color": "#111", "align": "center", "baseline": "alphabetic"}},
        {"data": {"values": [
          {"theta": 78.58, "intensity": 238.5, "label": "Fe₃0₄"},
          {"theta": 78.58, "intensity": 219.7, "label": "Fe₂O₃"},
          {"theta": 78.58, "intensity": 199.7, "label": "SiO₂"},
          {"theta": 78.58, "intensity": 177.3, "label": "CaCO₃"}]},
          "mark": {"type": "text", "fontSize": 18, "color": "#222", "align": "left", "baseline": "alphabetic"},
          "encoding": {"text": {"field": "label"}}},
        {"data": {"values": [
          {"theta": 81.95, "intensity": 152.5, "sample": "Fe-FMB"},
          {"theta": 81.76, "intensity": 45.5, "sample": "FMB"}]},
          "mark": {"type": "text", "fontSize": 21, "align": "center", "baseline": "middle"},
          "encoding": {"text": {"field": "sample"}, "color": {"field": "sample", "type": "nominal", "scale": {"domain": ["Fe-FMB", "FMB"], "range": ["#e8474a", "#3c3c3c"]}, "legend": null}}},
        {"data": {"values": [{"theta": 22.8, "intensity": 244, "label": "A"}]},
          "mark": {"type": "text", "fontSize": 19, "color": "#222", "align": "center", "baseline": "middle"},
          "encoding": {"text": {"field": "label"}}}
      ]
    },
    {
      "width": 374,
      "height": 261,
      "layer": [
        {"data": {"name": "ftir"}, "mark": {"type": "line", "strokeWidth": 1.4},
          "encoding": {
            "x": {"field": "wavenumber", "type": "quantitative", "scale": {"domain": [400, 4000], "reverse": true, "nice": false, "zero": false},
              "axis": {"title": "波数/cm⁻¹", "values": [4000, 3500, 3000, 2500, 2000, 1500, 1000, 500], "labelExpr": "replace(format(datum.value, ','), ',', ' ')", "tickSize": -6, "labelPadding": 19, "labelFontSize": 17, "titleFontSize": 19, "titlePadding": 12, "labelFlush": false}},
            "y": {"field": "absorbance", "type": "quantitative", "scale": {"domain": [0, 261], "nice": false, "zero": false},
              "axis": {"title": "吸光度", "ticks": false, "labels": false, "titleFont": "Noto Sans CJK SC", "titleFontSize": 18, "titlePadding": 18}},
            "color": {"field": "sample", "type": "nominal", "scale": {"domain": ["Fe-FMB", "FMB"], "range": ["#e8474a", "#3c3c3c"]}, "legend": null}}},
        {"data": {"values": [{"wavenumber": 3416}, {"wavenumber": 1590}, {"wavenumber": 1099}, {"wavenumber": 798}, {"wavenumber": 593}]},
          "mark": {"type": "rule", "strokeDash": [4, 3], "strokeWidth": 1.3, "color": "#222"},
          "encoding": {"x": {"field": "wavenumber", "type": "quantitative"}}},
        {"data": {"values": [
          {"wavenumber": 3423, "absorbance": 217.3, "label": "O—H"},
          {"wavenumber": 1096, "absorbance": 244.7, "label": "C—O—C"},
          {"wavenumber": 1599, "absorbance": 226.3, "label": "C=C"},
          {"wavenumber": 705, "absorbance": 154.7, "label": "Si—O"}]},
          "mark": {"type": "text", "fontSize": 19, "color": "#222", "align": "center", "baseline": "middle"},
          "encoding": {"x": {"field": "wavenumber", "type": "quantitative"}, "y": {"field": "absorbance", "type": "quantitative"}, "text": {"field": "label"}}},
        {"data": {"values": [{"wavenumber": 591, "absorbance": 175, "label": "593.3"}]},
          "mark": {"type": "text", "fontSize": 20, "color": "#e8474a", "align": "center", "baseline": "middle"},
          "encoding": {"x": {"field": "wavenumber", "type": "quantitative"}, "y": {"field": "absorbance", "type": "quantitative"}, "text": {"field": "label"}}},
        {"data": {"values": [
          {"wavenumber": 2313, "absorbance": 161.5, "sample": "Fe-FMB"},
          {"wavenumber": 2346, "absorbance": 64, "sample": "FMB"}]},
          "mark": {"type": "text", "fontSize": 21, "align": "center", "baseline": "middle"},
          "encoding": {"x": {"field": "wavenumber", "type": "quantitative"}, "y": {"field": "absorbance", "type": "quantitative"}, "text": {"field": "sample"}, "color": {"field": "sample", "type": "nominal", "legend": null}}},
        {"data": {"values": [{"wavenumber": 3856, "absorbance": 244, "label": "B"}]},
          "mark": {"type": "text", "fontSize": 19, "color": "#222", "align": "center", "baseline": "middle"},
          "encoding": {"x": {"field": "wavenumber", "type": "quantitative"}, "y": {"field": "absorbance", "type": "quantitative"}, "text": {"field": "label"}}}
      ]
    }
  ],
  "resolve": {"scale": {"x": "independent", "y": "independent", "color": "shared", "shape": "independent"}}
}
